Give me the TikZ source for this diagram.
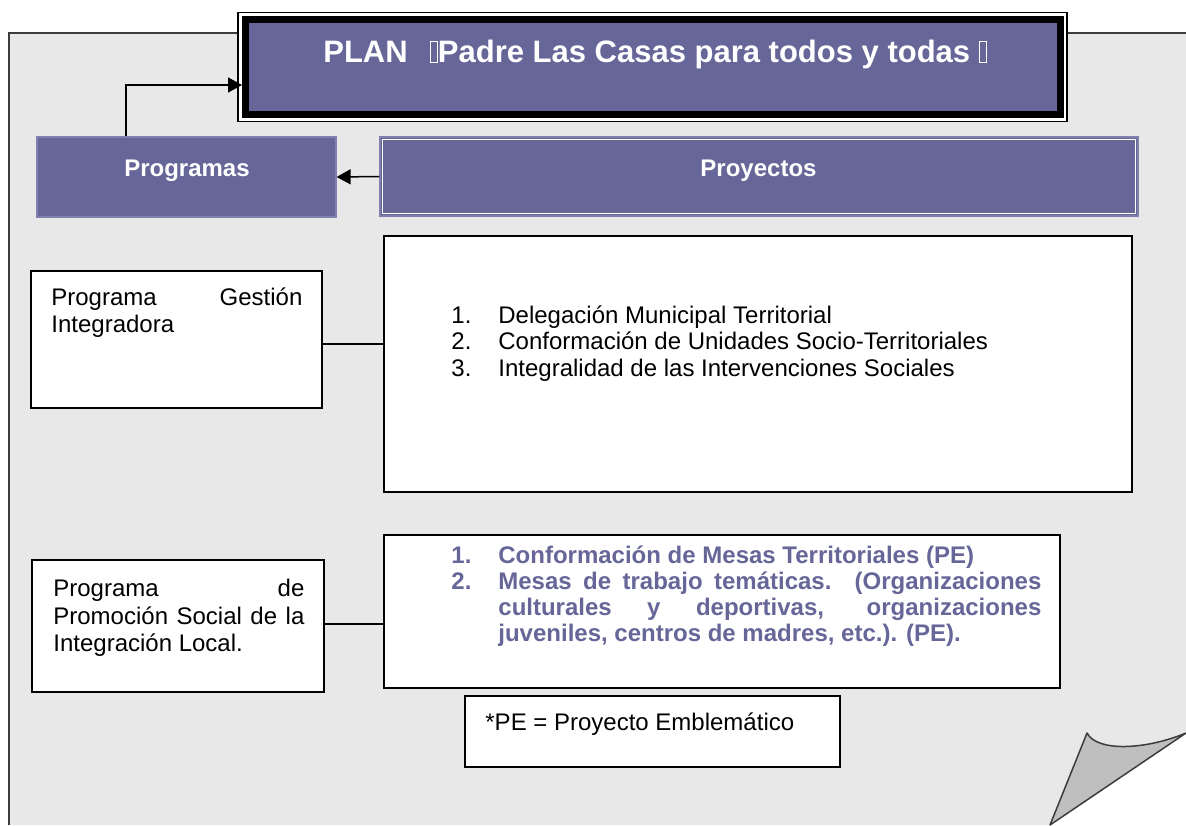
\documentclass[tikz,border=0pt]{standalone}
\usepackage{fontspec}
\setmainfont{Liberation Sans}
\usepackage{tikz}
\usetikzlibrary{arrows.meta, positioning, calc}

\definecolor{planpurple}{RGB}{102,102,153}
\definecolor{planedge}{RGB}{128,128,176}
\definecolor{pagegray}{RGB}{232,232,232}
\definecolor{curlgray}{RGB}{191,191,191}
\definecolor{edgegray}{RGB}{60,60,60}

% empty box as printed for the missing quote glyphs
\newcommand\missingglyph{{\setlength\fboxsep{0pt}\setlength\fboxrule{0.4pt}\fbox{\rule{0pt}{0.66em}\hspace{0.2em}}}}
\newcommand\projitem[2]{\noindent\makebox[23.5pt][l]{#1}\parbox[t]{271.5pt}{#2}\par}

\tikzset{
  headbox/.style={rectangle, draw=planedge, fill=planpurple, line width=0.6pt, inner sep=0pt},
  planbox/.style={rectangle, draw=black, fill=planpurple, line width=3.5pt, inner sep=0pt},
  frame/.style={rectangle, draw=black, fill=white, line width=0.75pt, inner sep=0pt},
  txtbox/.style={rectangle, draw=black, fill=white, line width=0.75pt, inner sep=0pt},
  titletxt/.style={font=\fontsize{15.5}{18}\selectfont\bfseries, text=white, inner sep=0pt},
  headtxt/.style={font=\fontsize{12}{13.8}\selectfont\bfseries, text=white, inner sep=0pt},
  bodytxt/.style={font=\fontsize{12}{13.6}\selectfont, inner sep=0pt, align=justify},
  listtxt/.style={font=\fontsize{12}{13.4}\selectfont, inner sep=0pt, align=justify},
  purpletxt/.style={font=\fontsize{12}{13.1}\selectfont\bfseries, text=planpurple, inner sep=0pt, align=justify},
  arrow/.style={-{Triangle[length=7pt,width=7.5pt]}, line width=0.75pt},
  link/.style={line width=0.6pt}
}

\begin{document}
\begin{tikzpicture}[x=0.5pt, y=-0.5pt]
  \useasboundingbox (0,0) rectangle (1186,825);
  % sheet with turned corner
  \fill[pagegray] (9,33) -- (1186,33) -- (1186,733) -- (1050,825) -- (9,825) -- cycle;
  \draw[edgegray, line width=1.2pt] (9,825) -- (9,33) -- (1186,33);
  \filldraw[fill=curlgray, draw=edgegray, line width=0.75pt, line join=round]
    (1087,733) .. controls (1097,752) and (1145,750) .. (1186,733) -- (1050,825) -- cycle;

  % title
  \node[frame, minimum width=414.5pt, minimum height=54.5pt] (planframe) at (652.5,67.2) {};
  \node[planbox, minimum width=407.25pt, minimum height=47.5pt] (plan) at (652.75,67) {};
  \node[titletxt, anchor=base] (plantitle) at (655,62) {PLAN\ \ \,\missingglyph Padre Las Casas para todos y todas \missingglyph};

  % headers
  \node[headbox, minimum width=149.5pt, minimum height=40pt] (prog) at (186.5,177) {};
  \node[headtxt, anchor=base] (progtxt) at (187,176.5) {Programas};
  \node[headbox, minimum width=379pt, minimum height=39.5pt] (proy) at (759,176.5) {};
  \draw[white, line width=0.5pt] ([shift={(1.5pt,-1.5pt)}]proy.north west) rectangle ([shift={(-1.5pt,1.5pt)}]proy.south east);
  \node[headtxt, anchor=base] (proytxt) at (758.5,176.5) {Proyectos};

  \coordinate (elbow) at (126,85);
  \draw[arrow] (prog.north -| elbow) -- (elbow) -- (elbow -| plan.west);
  \draw[arrow] (proy.west) -- (prog.east);

  % first programme
  \node[txtbox, minimum width=145.5pt, minimum height=68.5pt] (gest) at (176.5,339.5) {};
  \node[bodytxt, text width=125.5pt, anchor=north west] (gesttxt) at (51,287) {Programa\hfill Gestión\\Integradora};
  \node[txtbox, minimum width=374pt, minimum height=128pt] (pry1) at (758,364) {};
  \node[listtxt, text width=300pt, anchor=north west] (pry1txt) at (451,305) {%
    \projitem{1.}{Delegación Municipal Territorial}
    \projitem{2.}{Conformación de Unidades Socio-Territoriales}
    \projitem{3.}{Integralidad de las Intervenciones Sociales}};
  \draw[link] ([yshift=-2.25pt]gest.east) -- ([yshift=-2.25pt]gest.east -| pry1.west);

  % second programme
  \node[txtbox, minimum width=146pt, minimum height=66pt] (prom) at (178,626) {};
  \node[bodytxt, text width=125.5pt, anchor=north west] (promtxt) at (53,579) {Programa\hfill de\linebreak Promoción Social de la\linebreak Integración Local.};
  \node[txtbox, minimum width=338pt, minimum height=76.5pt] (pry2) at (722,611.5) {};
  \node[purpletxt, text width=295pt, anchor=north west] (pry2txt) at (451,545) {%
    \projitem{1.}{Conformación de Mesas Territoriales (PE)}
    \projitem{2.}{Mesas de trabajo temáticas. (Organizaciones\linebreak culturales y deportivas, organizaciones\linebreak juveniles, centros de madres, etc.). (PE).}};
  \draw[link] ([yshift=1pt]prom.east) -- ([yshift=1pt,xshift=1pt]prom.east -| pry2.west);

  % note
  \node[txtbox, minimum width=187.5pt, minimum height=35.5pt] (pe) at (652.5,731.5) {};
  \node[bodytxt, anchor=base west] (petxt) at (485,730.5) {*PE = Proyecto Emblemático};
\end{tikzpicture}
\end{document}
